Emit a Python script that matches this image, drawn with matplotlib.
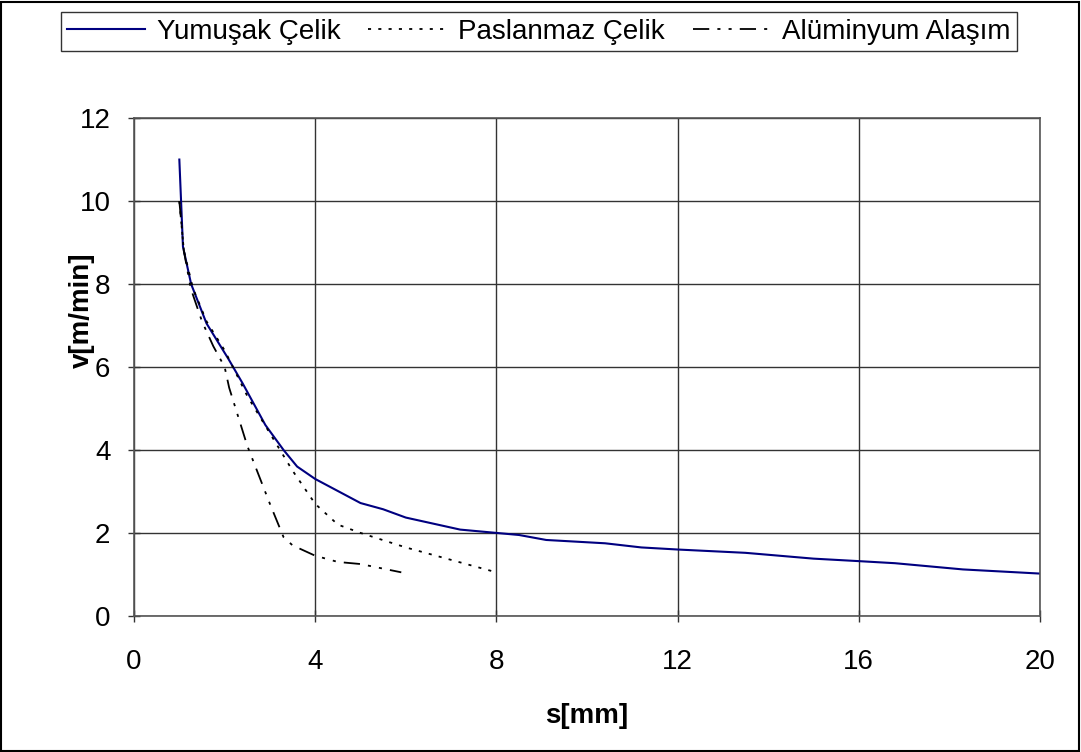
import matplotlib
matplotlib.use("Agg")
import matplotlib.pyplot as plt
from matplotlib.patches import Rectangle

plt.rcParams["font.family"] = ["Liberation Sans", "DejaVu Sans"]

# Yumuşak Çelik
s_yumusak = [1.0, 1.08, 1.26, 1.6, 2.08, 2.4, 2.9, 3.3, 3.6, 4.0, 5.0, 5.5, 6.0,
             7.2, 8.0, 8.5, 9.1, 10.4, 11.2, 12.0, 13.5, 15.0, 16.0, 16.8, 18.3, 20.0]
v_yumusak = [11.0, 8.9, 8.0, 7.05, 6.2, 5.6, 4.6, 4.0, 3.6, 3.3, 2.72, 2.57, 2.37,
             2.08, 2.0, 1.95, 1.83, 1.75, 1.65, 1.6, 1.52, 1.38, 1.32, 1.27, 1.12, 1.02]

# Paslanmaz Çelik
s_paslanmaz = [1.0, 1.1, 1.3, 1.6, 2.0, 2.5, 3.0, 3.5, 4.0, 4.5, 5.0, 6.0, 7.0, 8.0]
v_paslanmaz = [10.0, 8.8, 7.9, 7.1, 6.4, 5.3, 4.4, 3.5, 2.7, 2.2, 2.0, 1.65, 1.35, 1.05]

# Alüminyum Alaşım
s_aluminyum = [1.0, 1.1, 1.25, 1.5, 1.75, 2.0, 2.1, 2.5, 3.0, 3.3, 3.5, 4.0, 4.5, 5.0, 5.9]
v_aluminyum = [10.0, 8.8, 7.9, 7.1, 6.5, 6.0, 5.5, 4.1, 2.7, 1.9, 1.7, 1.45, 1.3, 1.25, 1.05]

x_ticks = [0, 4, 8, 12, 16, 20]
y_ticks = [0, 2, 4, 6, 8, 10, 12]

fig = plt.figure(figsize=(10.81, 7.52), dpi=100)
ax = fig.add_axes([0.124, 0.181, 0.838, 0.662])

ax.plot(s_yumusak, v_yumusak, color="#000080", linewidth=1.5, label="Yumuşak Çelik")
ax.plot(s_paslanmaz, v_paslanmaz, color="black", linewidth=1.3,
        linestyle=(0, (1.7, 4.0)), label="Paslanmaz Çelik")
ax.plot(s_aluminyum, v_aluminyum, color="black", linewidth=1.3,
        linestyle=(0, (9, 4.5, 1.7, 4.5, 1.7, 4.5)), label="Alüminyum Alaşım")

ax.set_xlim(0, 20)
ax.set_ylim(0, 12)
ax.set_xticks(x_ticks)
ax.set_yticks(y_ticks)
ax.tick_params(labelsize=20, direction="inout", length=8, width=1, color="#333333")
ax.tick_params(axis="x", pad=20)
ax.tick_params(axis="y", pad=13)
ax.grid(True, color="#333333", linewidth=1)
ax.set_axisbelow(True)
for sp in ax.spines.values():
    sp.set_color("#555555")
    sp.set_linewidth(1.2)

ax.set_xlabel("s[mm]", fontsize=20, fontweight="bold", labelpad=20)
ax.set_ylabel("v[m/min]", fontsize=20, fontweight="bold", va="center")
ax.yaxis.set_label_coords(-0.058, 0.614)

leg = fig.legend(loc="center", bbox_to_anchor=(0.4986, 0.958), ncol=3, fontsize=20,
                 frameon=True, fancybox=False, edgecolor="black", handlelength=2.8,
                 columnspacing=1.0, handletextpad=0.43, borderpad=0.22)
leg.get_frame().set_linewidth(1.0)

fig.patches.append(Rectangle((0.001, 0.001), 0.997, 0.997, transform=fig.transFigure,
                             fill=False, edgecolor="black", linewidth=1.5))

fig.savefig("out.png", dpi=100)
